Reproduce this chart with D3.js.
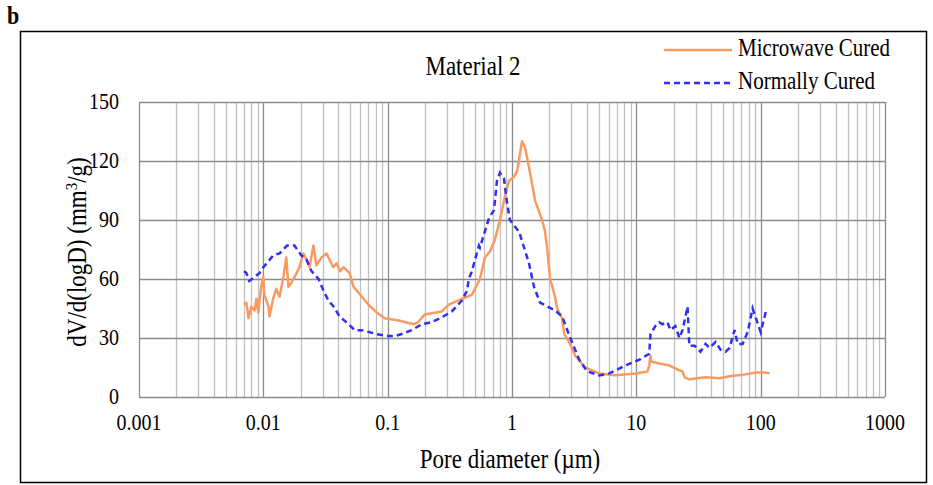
<!DOCTYPE html>
<html>
<head>
<meta charset="utf-8">
<script src="https://cdn.jsdelivr.net/npm/d3@7"></script>
<style>
  body { margin: 0; background: #fff; }
</style>
</head>
<body>
<div id="chart"></div>
<script>
// pore diameter (um) and dV/d(logD) (mm3/g)
const microwaveD = [0.0070, 0.0073, 0.0076, 0.0080, 0.0085, 0.0088, 0.0091, 0.0096, 0.0100, 0.0102,
  0.0110, 0.0112, 0.0120, 0.0127, 0.0135, 0.0145, 0.0153, 0.0159, 0.0168, 0.0185, 0.0195, 0.0210,
  0.0222, 0.0235, 0.0253, 0.0267, 0.0294, 0.0322, 0.0340, 0.0365, 0.0388, 0.0415, 0.0442, 0.0494, 0.0532, 0.0584,
  0.070, 0.0815, 0.0946, 0.12, 0.162, 0.175, 0.199, 0.272, 0.31, 0.40, 0.476, 0.552, 0.606, 0.665,
  0.729, 0.80, 0.878, 0.946, 1.04, 1.10, 1.204, 1.273, 1.397, 1.531, 1.746, 1.845, 1.916, 2.025,
  2.22, 2.31, 2.53, 2.63, 2.88, 3.22, 3.88, 5.03, 6.77, 9.82, 12.3, 12.7, 13.0, 13.2, 15.3, 18.5,
  21.4, 23.5, 24.5, 26.7, 36, 46.7, 56.2, 75.7, 91.2, 109.7, 118];
const microwaveV = [47, 48, 40, 46, 44, 50, 43, 56, 61, 52,
  46, 41, 50, 55, 51, 61, 71, 56, 58, 63, 66, 73,
  70, 66, 77, 67, 71, 73, 70, 66, 68, 64, 66, 63, 56, 53,
  47, 43, 40, 39, 37, 38, 42, 43.5, 47, 50, 52, 60, 71, 74,
  80, 90, 102, 110, 112, 115, 130, 127, 114, 100, 90, 84, 76, 60,
  51, 45, 40, 32, 28, 21, 15, 12, 11, 12, 13, 16, 21, 18, 17, 16,
  14, 13, 10, 9, 10, 9.5, 10.5, 11.5, 12.5, 12.5, 12];

const normalD = [0.0070, 0.0073, 0.0077, 0.0085, 0.0093, 0.0100, 0.0110, 0.0120, 0.0135, 0.0155,
  0.0178, 0.0202, 0.0222, 0.0244, 0.0278, 0.0305, 0.0334, 0.0367, 0.0410, 0.0485, 0.0542, 0.0617,
  0.0815, 0.0982, 0.1138, 0.1297, 0.156, 0.188, 0.226, 0.272, 0.328, 0.395, 0.434, 0.45, 0.476,
  0.542, 0.552, 0.653, 0.716, 0.757, 0.800, 0.862, 0.911, 0.963, 1.14, 1.37, 1.504, 1.68, 2.22,
  2.53, 2.9, 3.47, 4.03, 5.03, 6.06, 8.15, 10.6, 12.7, 13.0, 14.2, 15.3, 16.2, 17.8, 18.8, 20.6,
  22.2, 23.5, 24.9, 25.8, 26.7, 29.4, 32.8, 36.0, 38.8, 43.4, 47.6, 52.2, 56.2, 61.7, 65.3, 71.6,
  78.6, 86.1, 100, 111.8];
const normalV = [64, 63, 59, 61, 63, 66, 69, 72, 73, 77,
  77, 72, 70, 64, 60, 54, 49, 46, 41, 37, 34, 34,
  32, 31, 31, 32, 34, 37, 38, 40.5, 43.5, 49, 54, 60, 64,
  77, 76, 91, 95, 110, 114, 111, 99, 90, 84, 68, 56, 48, 44,
  41, 31, 19, 13, 11, 12, 16, 19, 22, 32, 36, 38, 37, 38, 34, 36,
  30, 34, 41, 46, 26, 26, 23, 27, 25, 28, 24, 23, 25, 34, 27, 27,
  33, 45, 33, 45];

const yTicks = [0, 30, 60, 90, 120, 150];
const xTicks = [0.001, 0.01, 0.1, 1, 10, 100, 1000];
const xTickLabels = ["0.001", "0.01", "0.1", "1", "10", "100", "1000"];

const W = 933, H = 485;
const STRETCH = 1.15; // glyphs in the picture are a bit taller than wide
const svg = d3.select("#chart").append("svg")
  .attr("width", W).attr("height", H)
  .attr("font-family", "'Liberation Serif', 'DejaVu Serif', serif")
  .style("font-family", "'Liberation Serif', 'DejaVu Serif', serif");

// text placed at (tx, ty) with a vertical stretch
function label(parent, tx, ty, size, anchor, rot) {
  return parent.append("text")
    .attr("transform", `translate(${tx},${ty})` + (rot ? ` rotate(${rot})` : "") + ` scale(1,${STRETCH})`)
    .attr("text-anchor", anchor)
    .style("font-size", size + "px");
}

// outer frame
svg.append("rect")
  .attr("x", 20.5).attr("y", 31.5).attr("width", 906).attr("height", 451)
  .attr("fill", "none").attr("stroke", "#000").attr("stroke-width", 1.5);

label(svg, 7, 24, 22, "start").style("font-weight", "bold").text("b");

const x = d3.scaleLog().domain([0.001, 1000]).range([139, 885]);
const y = d3.scaleLinear().domain([0, 150]).range([397, 102]);

// vertical grid: minor then decades
const minor = x.ticks().filter(d => !xTicks.some(t => Math.abs(t - d) / t < 1e-9));
svg.append("g").selectAll("line").data(minor).enter().append("line")
  .attr("x1", d => Math.round(x(d)) + 0.5).attr("x2", d => Math.round(x(d)) + 0.5)
  .attr("y1", y(150)).attr("y2", y(0))
  .attr("stroke", "#c0c0c0").attr("stroke-width", 1.3);

svg.append("g").selectAll("line").data(xTicks).enter().append("line")
  .attr("x1", d => Math.round(x(d)) + 0.5).attr("x2", d => Math.round(x(d)) + 0.5)
  .attr("y1", y(150)).attr("y2", y(0))
  .attr("stroke", "#8c8c8c").attr("stroke-width", 1.3);

// horizontal grid
svg.append("g").selectAll("line").data(yTicks).enter().append("line")
  .attr("x1", x(0.001)).attr("x2", x(1000))
  .attr("y1", d => Math.round(y(d)) + 0.5).attr("y2", d => Math.round(y(d)) + 0.5)
  .attr("stroke", "#8c8c8c").attr("stroke-width", 1.3);

// tick labels
const gy = svg.append("g");
yTicks.forEach(d => label(gy, 119, y(d) + 7, 20, "end").text(d));
const gx = svg.append("g");
xTicks.forEach((d, i) => label(gx, x(d), 430, 20, "middle").text(xTickLabels[i]));

// axis titles
label(svg, 510, 468, 23, "middle").text("Pore diameter (\u00b5m)");

const yt = label(svg, 86, 252, 23, "middle", -90);
yt.append("tspan").text("dV/d(logD) (mm");
yt.append("tspan").attr("dy", -8).style("font-size", "15px").text("3");
yt.append("tspan").attr("dy", 8).text("/g)");

label(svg, 473, 75, 23, "middle").text("Material 2");

// series
const line = d3.line().x(d => x(d[0])).y(d => y(d[1]));

svg.append("path")
  .datum(microwaveD.map((d, i) => [d, microwaveV[i]]))
  .attr("fill", "none").attr("stroke", "#f99a62").attr("stroke-width", 2.5)
  .attr("stroke-linejoin", "round")
  .attr("d", line);

svg.append("path")
  .datum(normalD.map((d, i) => [d, normalV[i]]))
  .attr("fill", "none").attr("stroke", "#2f2ff5").attr("stroke-width", 2.5)
  .attr("stroke-dasharray", "6,4")
  .attr("d", line);

// legend
const legend = svg.append("g");
legend.append("line").attr("x1", 664).attr("x2", 732).attr("y1", 50).attr("y2", 50)
  .attr("stroke", "#f99a62").attr("stroke-width", 2.5);
label(legend, 738, 56, 21, "start").text("Microwave Cured");
legend.append("line").attr("x1", 664).attr("x2", 732).attr("y1", 83).attr("y2", 83)
  .attr("stroke", "#2f2ff5").attr("stroke-width", 2.5).attr("stroke-dasharray", "6,4");
label(legend, 738, 89, 21, "start").text("Normally Cured");
</script>
</body>
</html>
